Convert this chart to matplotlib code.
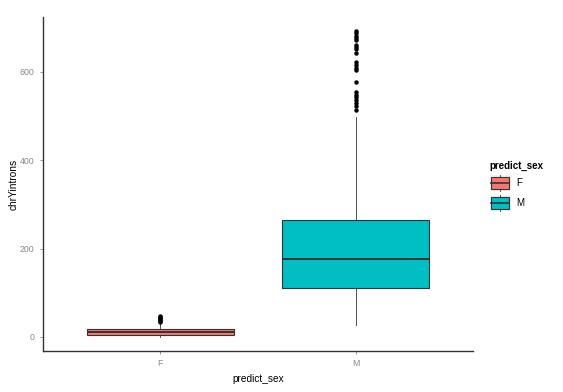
import matplotlib.pyplot as plt
from matplotlib.legend_handler import HandlerBase
from matplotlib.patches import Rectangle
from matplotlib.lines import Line2D

plt.rcParams['font.family'] = ['Liberation Sans', 'DejaVu Sans']

# data (box statistics)
groups = ["F", "M"]
colors = ["#F8766D", "#00BFC4"]
q1 = [4.5, 111]
med = [11, 176]
q3 = [18, 265]
whislo = [0, 27]
whishi = [33, 498]
fliers_f = [35, 37, 39, 41, 43, 45, 47]
fliers_m = [514, 523, 530, 537, 543, 548, 555, 577, 604, 609, 616, 623,
            643, 652, 657, 661, 672, 677, 681, 688, 693]

fig = plt.figure(figsize=(5.63, 3.92), dpi=100)
ax = fig.add_axes([43 / 563, 41 / 392, 430 / 563, 334 / 392])

stats = []
for i, g in enumerate(groups):
    stats.append(dict(label=g, q1=q1[i], med=med[i], q3=q3[i],
                      whislo=whislo[i], whishi=whishi[i],
                      fliers=[fliers_f, fliers_m][i]))

bp = ax.bxp(stats, positions=[1, 2], widths=0.75, patch_artist=True,
            showcaps=False,
            boxprops=dict(edgecolor="#333333", linewidth=0.8),
            medianprops=dict(color="#333333", linewidth=1.4),
            whiskerprops=dict(color="#333333", linewidth=0.6),
            flierprops=dict(marker="o", markerfacecolor="black",
                            markeredgecolor="black", markersize=2.2))
for patch, c in zip(bp["boxes"], colors):
    patch.set_facecolor(c)

ax.set_xlim(0.4, 2.6)
ax.set_ylim(-31.7, 724.5)
ax.set_yticks([0, 200, 400, 600])
ax.set_xticks([1, 2])
ax.set_xticklabels(groups)

for s in ["top", "right"]:
    ax.spines[s].set_visible(False)
for s in ["left", "bottom"]:
    ax.spines[s].set_color("#333333")
    ax.spines[s].set_linewidth(1.0)
ax.tick_params(colors="#888888", labelsize=6.3, length=2.5, width=0.6)

ax.set_xlabel("predict_sex", fontsize=7.3, labelpad=4)
ax.set_ylabel("chrYintrons", fontsize=7.3, labelpad=1)


class BoxHandler(HandlerBase):
    def create_artists(self, legend, orig_handle, xdescent, ydescent,
                       width, height, fontsize, trans):
        c = orig_handle
        x0, x1 = -xdescent, -xdescent + width
        y0, y1 = -ydescent, -ydescent + height
        xm = (x0 + x1) / 2
        h = y1 - y0
        bg = Rectangle((x0, y0), width, height, facecolor="#F2F2F2",
                       edgecolor="none", transform=trans)
        w1 = Line2D([xm, xm], [y0, y0 + 0.15 * h], color="#333333", lw=0.6,
                    transform=trans)
        w2 = Line2D([xm, xm], [y1 - 0.15 * h, y1], color="#333333", lw=0.6,
                    transform=trans)
        box = Rectangle((x0 + 0.08 * width, y0 + 0.15 * h), 0.84 * width,
                        0.7 * h, facecolor=c, edgecolor="#333333", lw=0.8,
                        transform=trans)
        m = Line2D([x0 + 0.08 * width, x1 - 0.08 * width], [y0 + 0.5 * h] * 2,
                   color="#333333", lw=1.2, transform=trans)
        return [bg, w1, w2, box, m]


leg = fig.legend(colors, groups, handler_map={str: BoxHandler()},
                 title="predict_sex", loc="upper left",
                 bbox_to_anchor=(481 / 563, 1 - 152 / 392), frameon=False,
                 fontsize=7, title_fontsize=7, handlelength=2.2,
                 handleheight=2.2, labelspacing=0.4, handletextpad=0.5)
leg.get_title().set_fontweight("bold")
leg._legend_box.align = "left"

fig.savefig("out.png", dpi=100)
